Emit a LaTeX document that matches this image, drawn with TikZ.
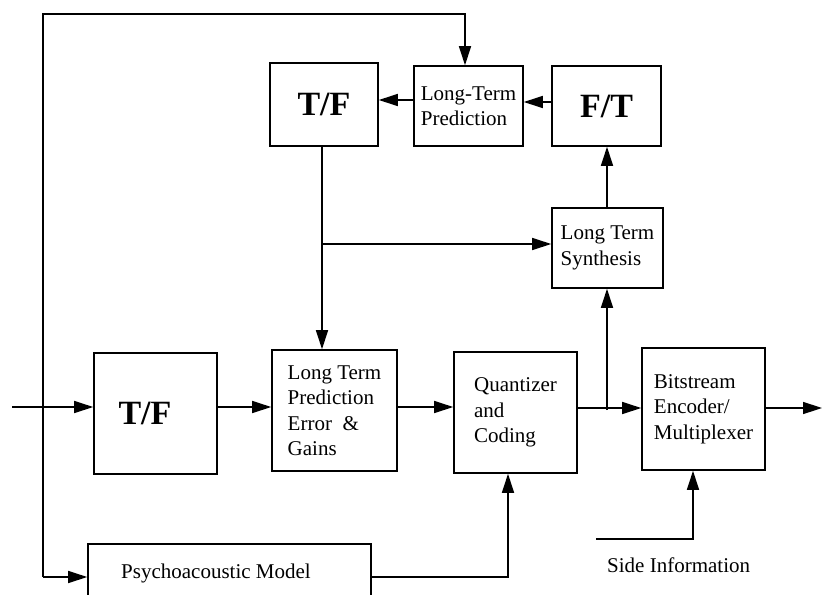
\documentclass[tikz,border=0pt]{standalone}
\usepackage{fontspec}
\setmainfont{Liberation Serif}
\usetikzlibrary{arrows.meta}
\begin{document}
\begin{tikzpicture}[x=1pt,y=-1pt,
  blk/.style={draw, line width=1.6pt, align=left, inner sep=0pt,
              font=\fontsize{21}{25.5}\selectfont},
  big/.style={draw, line width=1.6pt, inner sep=0pt,
              font=\fontsize{34}{40}\selectfont\bfseries},
  wire/.style={line width=1.5pt},
  sig/.style={wire, -{Triangle[length=19pt,width=12pt]}}]
\useasboundingbox (0,0) rectangle (823,595);
\clip (0,0) rectangle (823,595);
\fill[white] (0,0) rectangle (823,595);

% upper loop
\node[big, minimum width=108pt, minimum height=83pt] (tfA) at (324,104.5) {T/F};
\node[blk, minimum width=109pt, minimum height=80pt] (ltp) at (468.5,106) {Long-Term\\Prediction};
\node[big, minimum width=109pt, minimum height=80pt] (ft) at (606.5,106) {F/T};
\node[blk, minimum width=111pt, minimum height=80pt] (lts) at (607.5,248) {Long Term\\Synthesis};

% main chain
\node[big, minimum width=123pt, minimum height=121pt] (tfB) at (155.5,413.5) {\hspace*{-21pt}T/F};
\node[blk, minimum width=125pt, minimum height=121pt] (ltpe) at (334.5,410.5)
  {Long Term\\Prediction\\Error\ \ \&\\Gains};
\node[blk, minimum width=123pt, minimum height=121pt] (quant) at (515.5,412.5)
  {Quantizer\\and\\Coding};
\node[blk, minimum width=123pt, minimum height=122pt] (bits) at (703.5,409)
  {Bitstream\\Encoder/\\Multiplexer};
\node[blk, minimum width=283pt, minimum height=58pt] (psy) at (229.5,573)
  {\hspace*{-27pt}Psychoacoustic Model};
\node[font=\fontsize{21}{25.5}\selectfont, inner sep=0pt, anchor=base west] (silabel)
  at (607,572) {Side Information};

% routing points
\coordinate (in) at (12,407);
\coordinate (j) at (607,408);
\coordinate (br) at (322,244);
\coordinate (tl) at (43,14);
\coordinate (tr) at (465,14);
\coordinate (pb) at (43,577);
\coordinate (qc) at (508,577);
\coordinate (si) at (596,539);
\coordinate (sc) at (693,539);
\coordinate (out) at (822,408);
\coordinate (fb1) at (0,102);
\coordinate (fb2) at (0,100);

% connectors
\draw[sig] (in) -- (tfB.west |- in);
\draw[sig] (tfB.east |- in) -- (ltpe.west |- in);
\draw[sig] (ltpe.east |- in) -- (quant.west |- in);
\draw[sig] (quant.east |- j) -- (bits.west |- j);
\draw[sig] (bits.east |- j) -- (out);
\draw[sig] ([yshift=-2pt]j) -- (j |- lts.south);
\draw[sig] (lts.north -| j) -- (ft.south -| j);
\draw[sig] (ft.west |- fb1) -- (ltp.east |- fb1);
\draw[sig] (ltp.west |- fb2) -- (tfA.east |- fb2);
\draw[sig] (tfA.south -| br) -- (ltpe.north -| br);
\draw[sig] (br) -- (lts.west |- br);
\draw[sig] (pb) -- (tl) -- (tr) -- (tr |- ltp.north);
\draw[sig] (pb) -- (psy.west |- pb);
\draw[sig] (psy.east |- qc) -- (qc) -- (qc |- quant.south);
\draw[sig] (si) -- (sc) -- (sc |- bits.south);
\end{tikzpicture}
\end{document}
